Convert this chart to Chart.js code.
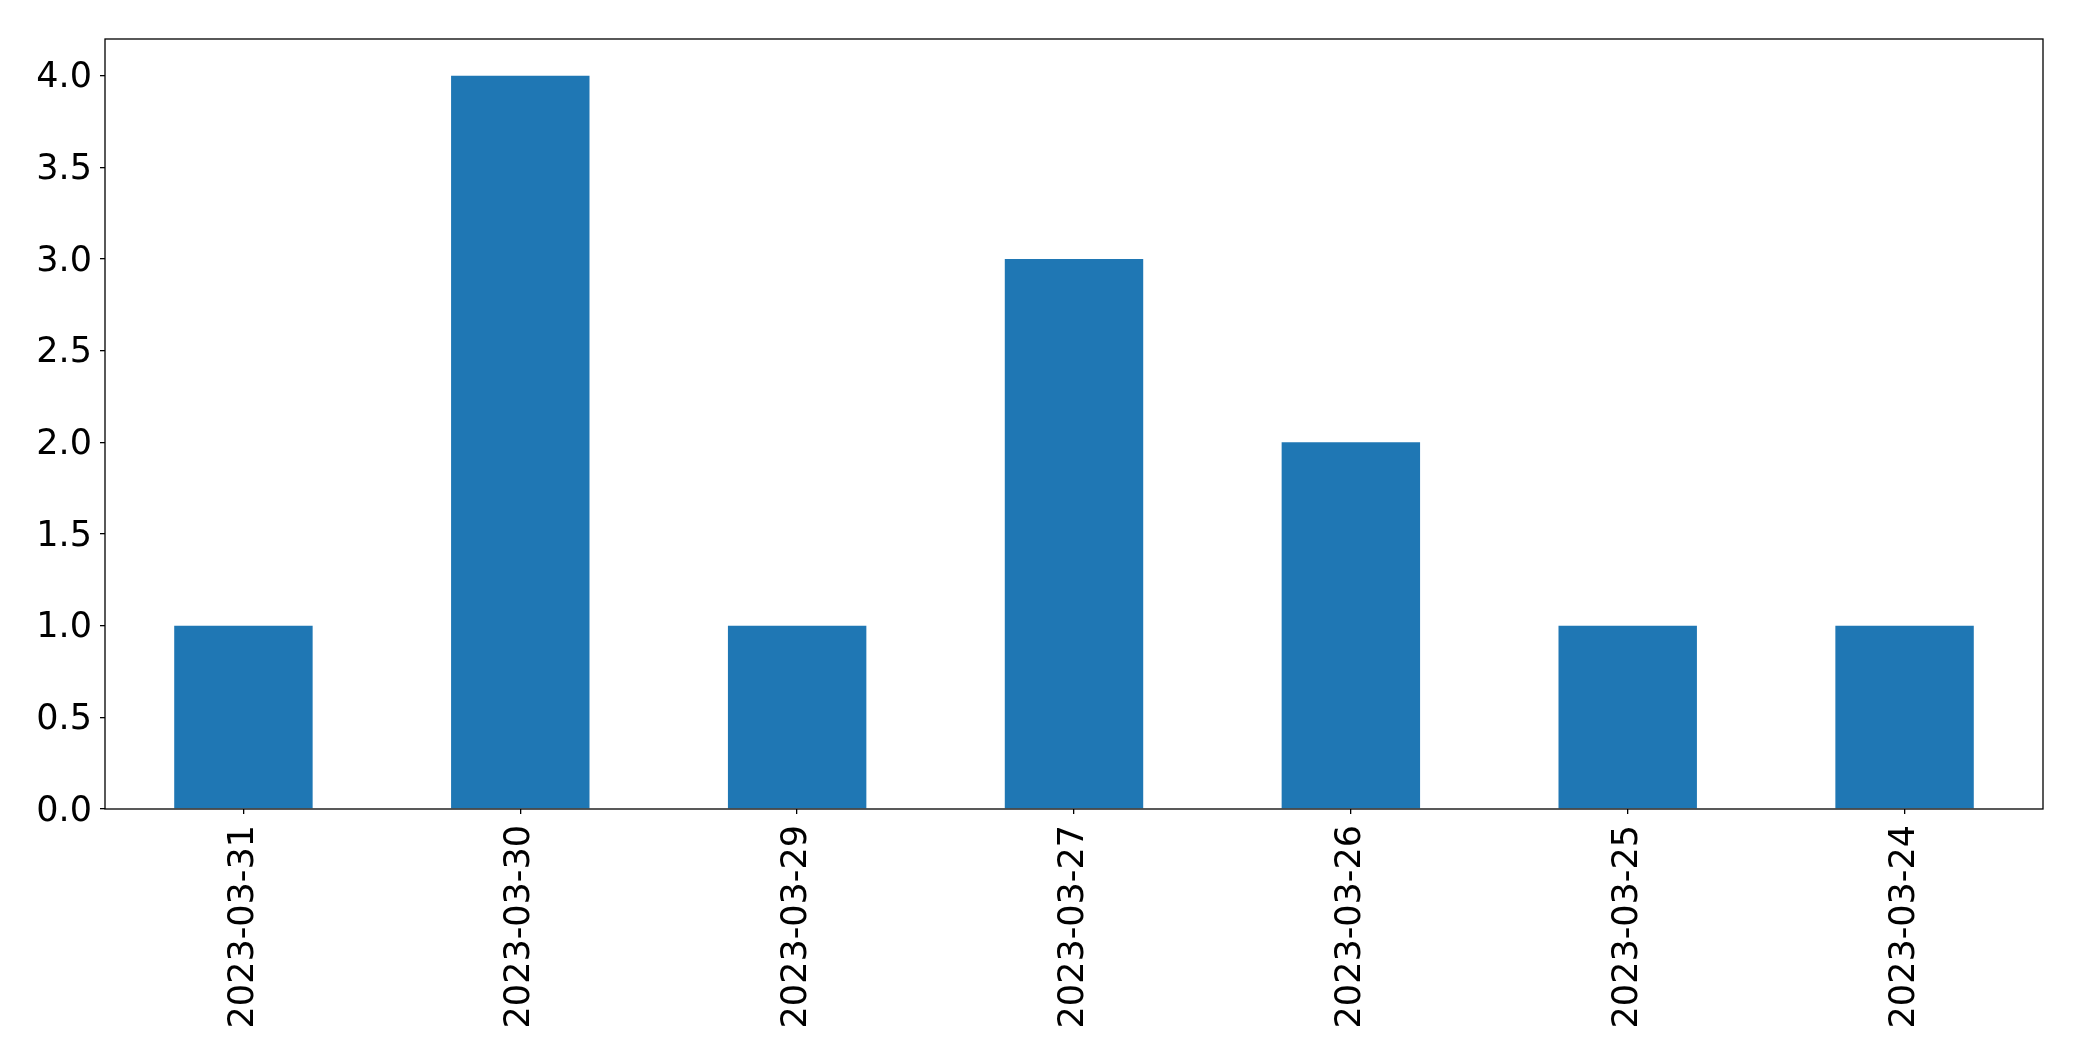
<!DOCTYPE html>
<html>
<head>
<meta charset="utf-8">
<script src="https://cdn.jsdelivr.net/npm/chart.js@4.4.1/dist/chart.umd.min.js"></script>
<style>
    html, body { margin: 0; padding: 0; background: #fff; }
    #wrap { width: 2082px; height: 1061px; }
</style>
</head>
<body>
<div id="wrap"><canvas id="chart" width="2082" height="1061"></canvas></div>
<script>
// --- DATA ---
const dates = ['2023-03-31', '2023-03-30', '2023-03-29', '2023-03-27', '2023-03-26', '2023-03-25', '2023-03-24'];
const counts = [1, 4, 1, 3, 2, 1, 1];
const yMax = 4.2;
const yStep = 0.5;

// --- STYLE ---
const FONT = { family: "'DejaVu Sans', sans-serif", size: 35 };

// frame round the plot, like the matplotlib axes box
const frame = {
    id: 'frame',
    afterDraw(chart) {
        const { ctx, chartArea: a } = chart;
        ctx.save();
        ctx.strokeStyle = '#000';
        ctx.lineWidth = 1.3;
        ctx.strokeRect(a.left, a.top, a.right - a.left, a.bottom - a.top);
        ctx.restore();
    }
};

new Chart(document.getElementById('chart'), {
    type: 'bar',
    data: {
        labels: dates,
        datasets: [{
            data: counts,
            backgroundColor: '#1f77b4',
            borderWidth: 0,
            barPercentage: 0.5,
            categoryPercentage: 1.0
        }]
    },
    options: {
        responsive: false,
        animation: false,
        layout: { padding: { top: 39, right: 39, left: 0, bottom: 0 } },
        plugins: { legend: { display: false }, tooltip: { enabled: false } },
        scales: {
            x: {
                offset: true,
                grid: { offset: false, drawOnChartArea: false, tickLength: 5, color: '#000', lineWidth: 1.3 },
                border: { display: false },
                ticks: { color: '#000', font: FONT, minRotation: 90, maxRotation: 90, padding: 11 },
                afterFit(scale) { scale.height = 252; }
            },
            y: {
                min: 0,
                max: yMax,
                grid: { drawOnChartArea: false, tickLength: 5, color: '#000', lineWidth: 1.3 },
                border: { display: false },
                ticks: {
                    stepSize: yStep,
                    includeBounds: false,
                    color: '#000',
                    font: FONT,
                    padding: 8,
                    labelOffset: 2.5,
                    callback: v => v.toFixed(1)
                },
                afterFit(scale) { scale.width = 105; }
            }
        }
    },
    plugins: [frame]
});
</script>
</body>
</html>
